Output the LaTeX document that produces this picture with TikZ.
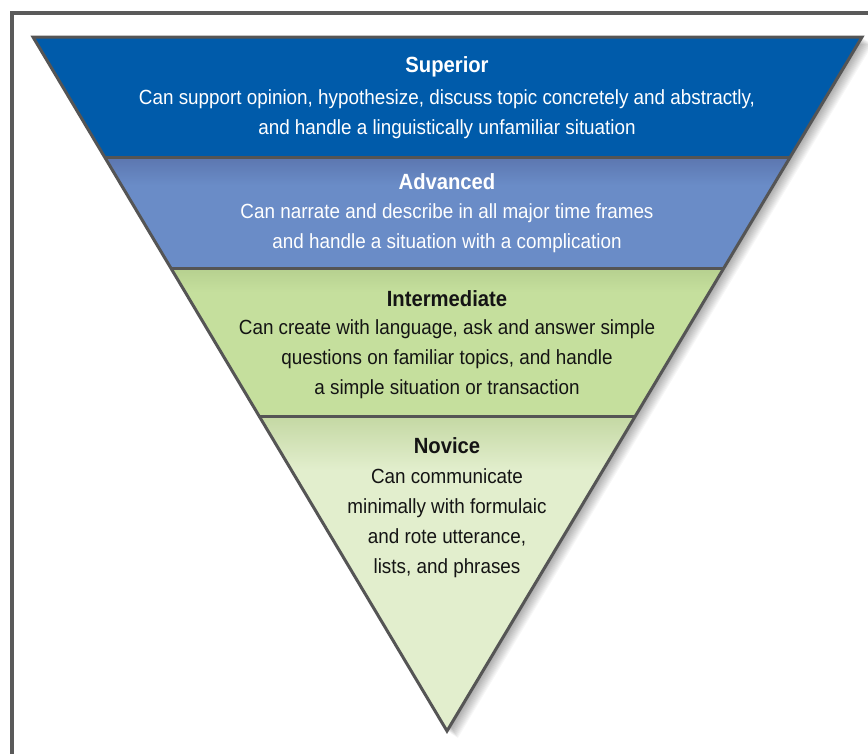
\documentclass[tikz,border=0pt]{standalone}
\usepackage{fontspec}
\setmainfont{Liberation Sans}[FakeStretch=0.92]
\definecolor{supblue}{RGB}{0,91,170}
\definecolor{advblue}{RGB}{106,140,199}
\definecolor{advtop}{RGB}{92,118,175}
\definecolor{intgreen}{RGB}{197,223,157}
\definecolor{inttop}{RGB}{182,208,143}
\definecolor{novgreen}{RGB}{226,238,205}
\definecolor{novtop}{RGB}{196,216,163}
\definecolor{edgegray}{RGB}{85,85,85}
\definecolor{framegray}{RGB}{90,90,90}
\definecolor{darktext}{RGB}{20,20,20}
\tikzset{
  titlefont/.style={font=\fontsize{22}{30}\selectfont\bfseries, inner sep=0pt},
  bodyfont/.style={font=\fontsize{20.5}{30}\selectfont, align=center, inner sep=0pt},
  divider/.style={draw=edgegray, line width=3pt},
}
\begin{document}
\begin{tikzpicture}[x=1pt,y=-1pt]
\useasboundingbox (0,0) rectangle (868,753);
\fill[white] (0,0) rectangle (868,753);
% frame
\draw[framegray, line width=4pt] (12,770) -- (12,12.5) -- (890,12.5);
% coordinates
\coordinate (TL) at (33,37);
\coordinate (TR) at (862,37);
\coordinate (AP) at (447,731);
\coordinate (L1) at (104.6,157);
\coordinate (R1) at (790.2,157);
\coordinate (L2) at (170.8,268);
\coordinate (R2) at (723.9,268);
\coordinate (L3) at (259.1,416);
\coordinate (R3) at (635.4,416);
% shadow
\foreach \d in {1,...,12}{
  \fill[black, opacity=0.03] ([shift={(\d*0.9,\d*0.6)}]TL) -- ([shift={(\d*0.9,\d*0.6)}]TR) -- ([shift={(\d*0.9,\d*0.6)}]AP) -- cycle;
}
% bands
\fill[supblue] (TL) -- (TR) -- (R1) -- (L1) -- cycle;
\fill[advblue] (L1) -- (R1) -- (R2) -- (L2) -- cycle;
\begin{scope}
  \clip (L1) -- (R1) -- (R2) -- (L2) -- cycle;
  \shade[top color=advtop, bottom color=advblue] (90,157) rectangle (800,185);
\end{scope}
\fill[intgreen] (L2) -- (R2) -- (R3) -- (L3) -- cycle;
\begin{scope}
  \clip (L2) -- (R2) -- (R3) -- (L3) -- cycle;
  \shade[top color=inttop, bottom color=intgreen] (160,268) rectangle (740,292);
\end{scope}
\fill[novgreen] (L3) -- (R3) -- (AP) -- cycle;
\begin{scope}
  \clip (L3) -- (R3) -- (AP) -- cycle;
  \shade[top color=novtop, bottom color=novgreen] (250,416) rectangle (650,470);
\end{scope}
% dividers and outline
\draw[divider] (L1) -- (R1);
\draw[divider] (L2) -- (R2);
\draw[divider] (L3) -- (R3);
\draw[draw=edgegray, line width=3pt, line join=miter] (TL) -- (TR) -- (AP) -- cycle;
% texts
\node[titlefont, text=white] (supT) at (447,67) {Superior};
\node[bodyfont, text=white] (supB) at (447,114) {Can support opinion, hypothesize, discuss topic concretely and abstractly,\\and handle a linguistically unfamiliar situation};
\node[titlefont, text=white] (advT) at (447,182) {Advanced};
\node[bodyfont, text=white] (advB) at (447,228.5) {Can narrate and describe in all major time frames\\and handle a situation with a complication};
\node[titlefont, text=darktext] (intT) at (447,299) {Intermediate};
\node[bodyfont, text=darktext] (intB) at (447,359) {Can create with language, ask and answer simple\\questions on familiar topics, and handle\\a simple situation or transaction};
\node[titlefont, text=darktext] (novT) at (447,446) {Novice};
\node[bodyfont, text=darktext] (novB) at (447,523) {Can communicate\\minimally with formulaic\\and rote utterance,\\lists, and phrases};
\end{tikzpicture}
\end{document}
